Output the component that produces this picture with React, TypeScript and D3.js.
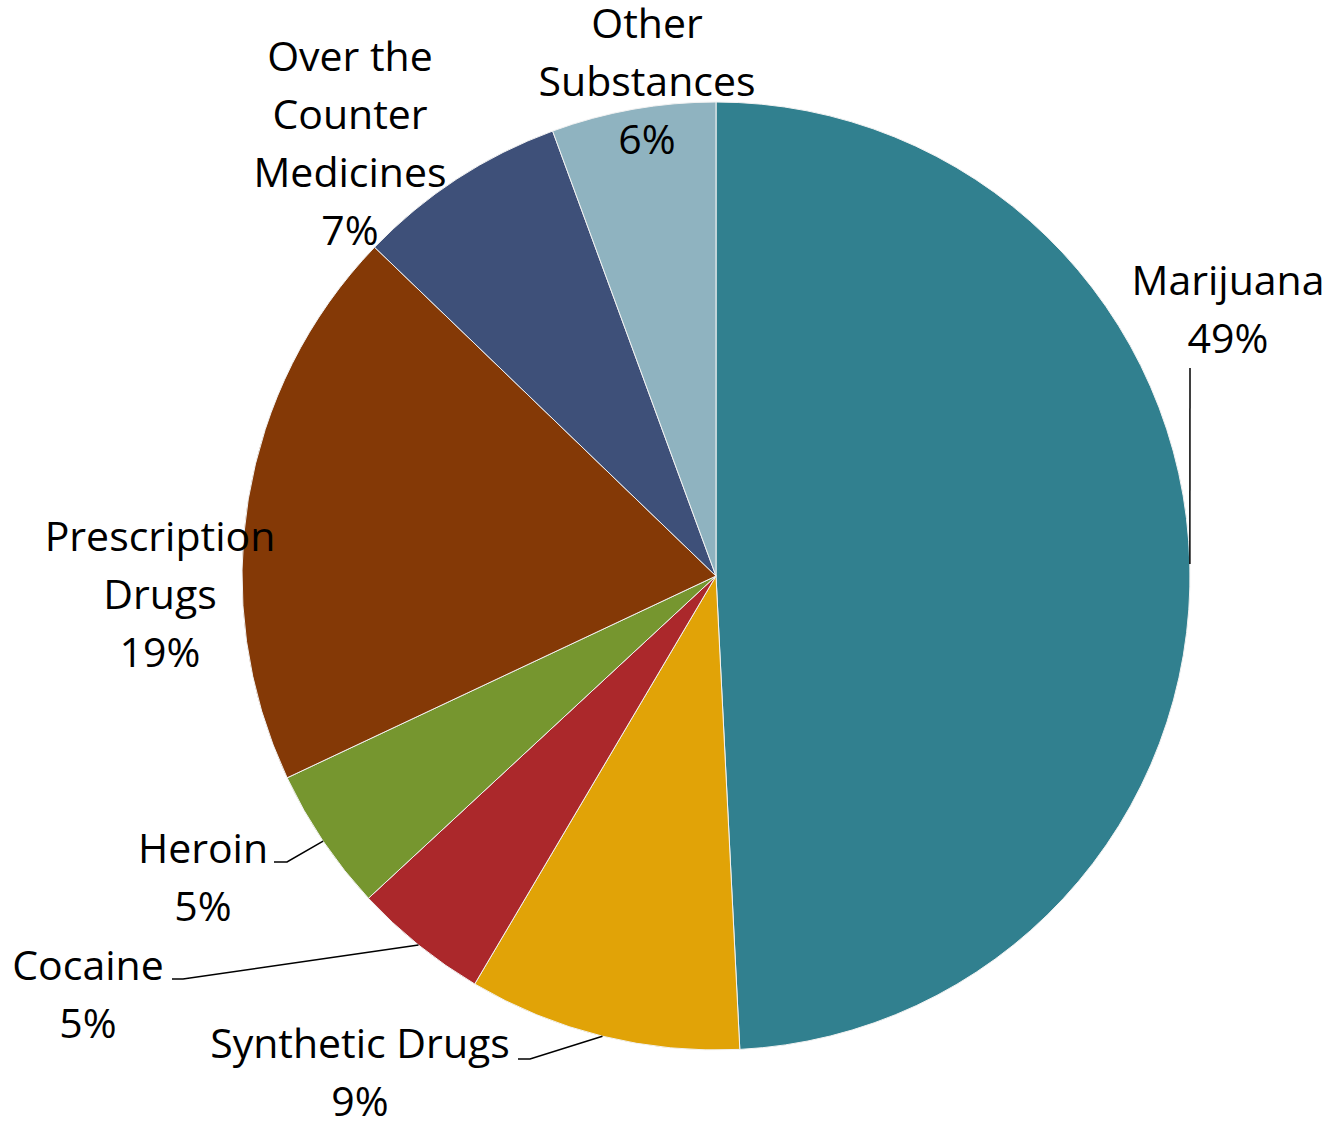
import React from "react";
import * as d3 from "d3";

// slice data, clockwise from 12 o'clock
const categories = [
  "Marijuana",
  "Synthetic Drugs",
  "Cocaine",
  "Heroin",
  "Prescription Drugs",
  "Over the Counter Medicines",
  "Other Substances",
];
const shares = [49.2, 9.3, 4.6, 4.9, 19.2, 7.2, 5.6];
const colors = ["#31808F", "#E1A307", "#AB282B", "#76962F", "#843906", "#3E5079", "#8FB3C0"];

// how each data label is broken into lines
const labelLines = [
  ["Marijuana"],
  ["Synthetic Drugs"],
  ["Cocaine"],
  ["Heroin"],
  ["Prescription", "Drugs"],
  ["Over the", "Counter", "Medicines"],
  ["Other", "Substances"],
];

const W = 1335;
const H = 1123;
const cx = 716;
const cy = 576;
const radius = 474;
const lineH = 58;
const FONT = "'Open Sans', 'Noto Sans', sans-serif";

// label placement (text centre x, first baseline y) and leader start points
const labelLayout: { x: number; y: number; leader?: [number, number][] }[] = [
  { x: 1228, y: 295, leader: [[1190, 368]] },
  { x: 360, y: 1058, leader: [[518, 1059], [530, 1059]] },
  { x: 88, y: 980, leader: [[172, 979], [183, 979]] },
  { x: 203, y: 863, leader: [[274, 862], [287, 862]] },
  { x: 160, y: 551 },
  { x: 350, y: 71 },
  { x: 647, y: 38 },
];

export default function App() {
  const pie = d3
    .pie<number>()
    .sort(null)
    .value((d) => d)
    .startAngle(0)
    .endAngle(2 * Math.PI);
  const arcs = pie(shares);
  const total = d3.sum(shares);
  const arc = d3.arc<d3.PieArcDatum<number>>().innerRadius(0).outerRadius(radius);

  return (
    <svg
      width={W}
      height={H}
      style={{ position: "absolute", left: 0, top: 0, background: "#fff" }}
    >
      <g transform={`translate(${cx},${cy})`}>
        {arcs.map((a, i) => (
          <path key={categories[i]} d={arc(a) || ""} fill={colors[i]} stroke="#f2f2f2" strokeWidth={1} />
        ))}
      </g>
      {arcs.map((a, i) => {
        const lay = labelLayout[i];
        const mid = (a.startAngle + a.endAngle) / 2;
        const ex = cx + radius * Math.sin(mid);
        const ey = cy - radius * Math.cos(mid);
        const pct = `${Math.round((shares[i] / total) * 100)}%`;
        const lines = [...labelLines[i], pct];
        return (
          <g key={"lab" + i}>
            {lay.leader && (
              <polyline
                points={[...lay.leader, [ex, ey]].map((p) => p.join(",")).join(" ")}
                fill="none"
                stroke="#000"
                strokeWidth={1.5}
              />
            )}
            <text
              x={lay.x}
              y={lay.y}
              textAnchor="middle"
              fontFamily={FONT}
              fontSize={41}
              fill="#000"
            >
              {lines.map((l, j) => (
                <tspan key={j} x={lay.x} y={lay.y + j * lineH}>
                  {l}
                </tspan>
              ))}
            </text>
          </g>
        );
      })}
    </svg>
  );
}
